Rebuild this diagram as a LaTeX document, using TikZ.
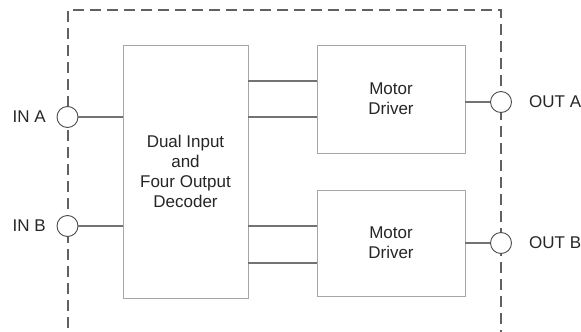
\documentclass[tikz,border=0pt]{standalone}
\usepackage{fontspec}
\setmainfont{Liberation Sans}
\begin{document}
\begin{tikzpicture}[x=1pt,y=-1pt,
  blk/.style={draw=black!35,line width=0.9pt,fill=white,inner sep=0pt,align=center,font=\fontsize{17}{20}\selectfont,text=black!85},
  wire/.style={draw=black!55,line width=1.1pt},
  frame/.style={draw=black!62,line width=1.4pt,dash pattern=on 11pt off 6pt},
  pin/.style={circle,draw=black!70,line width=0.9pt,fill=white,minimum size=21pt,inner sep=0pt},
  lbl/.style={font=\fontsize{17}{20}\selectfont,text=black!85,inner sep=0pt}]
\useasboundingbox (0,0) rectangle (581,332);
\draw[frame] (68,345) -- (68,10) -- (501,10) -- (501,345);
\node[blk,minimum width=125pt,minimum height=253pt] (dec) at (185.5,171.5) {Dual Input\\and\\Four Output\\Decoder};
\node[blk,minimum width=148pt,minimum height=108pt] (mA) at (391,99) {Motor\\Driver};
\node[blk,minimum width=148pt,minimum height=106pt] (mB) at (391,243) {Motor\\Driver};
\node[pin] (inA) at (67.5,117) {};
\node[pin] (inB) at (67.5,226) {};
\node[pin] (outA) at (501,102) {};
\node[pin] (outB) at (501,243) {};
\node[lbl,anchor=east] (linA) at (46,117) {IN A};
\node[lbl,anchor=east] (linB) at (46,226) {IN B};
\node[lbl,anchor=west] (loutA) at (529,102) {OUT A};
\node[lbl,anchor=west] (loutB) at (529,243) {OUT B};
\draw[wire] (inA) -- (inA -| dec.west);
\draw[wire] (inB) -- (inB -| dec.west);
\draw[wire] (dec.east |- 0,81) -- (mA.west |- 0,81);
\draw[wire] (dec.east |- 0,117) -- (mA.west |- 0,117);
\draw[wire] (dec.east |- 0,226) -- (mB.west |- 0,226);
\draw[wire] (dec.east |- 0,263) -- (mB.west |- 0,263);
\draw[wire] (mA.east |- outA) -- (outA);
\draw[wire] (mB.east |- outB) -- (outB);
\end{tikzpicture}
\end{document}
